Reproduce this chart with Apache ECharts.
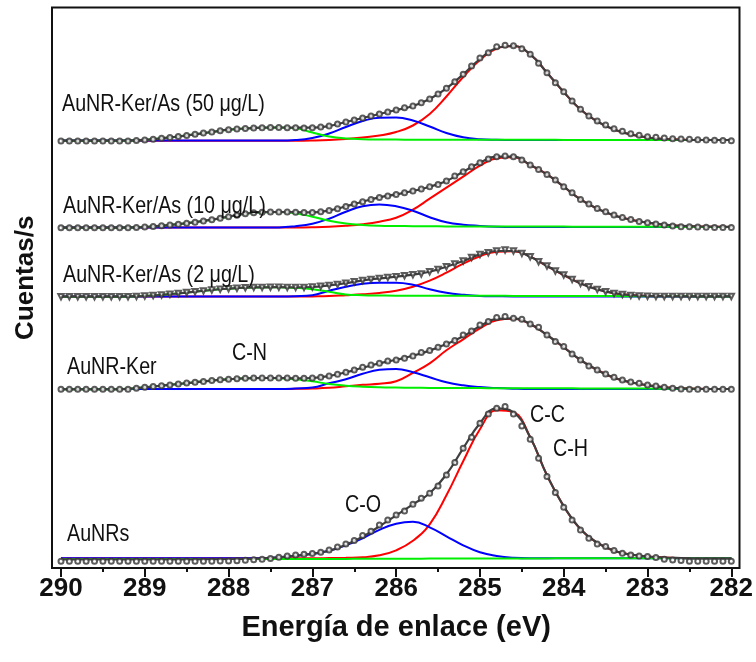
<!DOCTYPE html>
<html>
<head>
<meta charset="utf-8">
<script src="https://cdn.jsdelivr.net/npm/echarts@6/dist/echarts.min.js"></script>
<style>html,body{margin:0;padding:0;background:#fff}#c{width:756px;height:662px}</style>
</head>
<body>
<div id="c"></div>
<script>
// ---- data (intensity above each trace's own baseline, arbitrary units) ----
// measured points every 0.1 eV from 290.0 down to 282.0
const ptsA50 = [0,0,0,0,0,0,0,0,0,0.5, 1,1.7,2.7,3.5,4.5,5.5,6.7,8,9,10.3, 11.3,12,12.5,13,13.3,13.5,13.5,13.3,13.3,13, 13.3,14,15,17,19,21,23,25,27,29, 31,33.3,35,38.3,42,47,52.7,59.3,66.7,75, 83,88.3,94.3,95.7,95.3,92.3,86.7,77.7,68.3,58.3, 49.3,40,31.7,25,20,16,12.3,9.7,7.3,5.7, 4.3,3.7,3,2.3,2,1.7,1.3,1,0.7,0.5, 0.3];
const ptsA10 = [0,0,0,0,0,0,0,0,0,0.3, 0.7,1.3,2,2.7,3.5,4.5,5.5,6.7,8,9.5, 11,12.5,14,15,15.5,15.7,15.7,15.7,15.5,15.3, 15.3,16,17.3,19,21.3,23.7,26,28.3,30.3,31.7, 33.3,35,36.7,38.7,41,43.3,46.7,51.7,56,61, 65,68.7,71,71.7,71,67.7,62.7,58.3,53.3,47.7, 41,35,28.3,23.7,19.3,16,12.7,10.3,8.3,6.3, 5,3.7,2.7,1.7,1,1,0.7,0.5,0.3,0.3, 0.3];
const ptsA2 = [0,0,0,0,0,0,0,0,0,0.3, 0.7,1.2,1.8,2.5,3.3,4.2,5,5.8,6.7,7.5, 8,8.5,9,9.3,9.3,9.5,9.5,9.3,9.3,9.3, 9.7,10.5,11.3,12.3,13.5,15,16.3,17.3,18.3,19.3, 20,21,22,22.7,25,27.3,30,32.7,35.7,39.3, 42.3,44,45.7,46.7,45.7,43.3,40,35,30.7,25.7, 21.7,17.3,13.3,10,7.3,5,3.3,2.3,1.3,0.7, 0.5,0.3,0.2,0.2,0.2,0.2,0.2,0.2,0.2,0.2, 0.2];
const ptsKer = [0,0,0,0,0,0,0,0,0,1, 2,2.8,3.6,4.4,5.3,6.2,7,7.8,8.7,9.5, 10,10.5,11,11.3,11.3,11.3,11.3,11.2,11,11, 11.3,12,13.3,15,17,19.3,22,24.3,26,28.3, 29.3,31,33.3,36.7,38.7,42,45.3,48.7,54.3,58.3, 64.3,67.7,71.7,72.7,71,70,65.3,62,54.3,47.7, 42.7,35.3,29.3,23.3,19.3,15.3,12,9.3,7.3,6, 4.3,3.3,2,1,0.3,0,0,0,0,0, 0];
const ptsNR = [0,0,0,0,0,0,0,0,0,0, 0,0,0,0,0,0,0,0,0,0.2, 0.4,0.6,1,1.5,2,2.7,4,5.3,6.3,7, 7.7,9,11.3,14.3,17.3,20.7,25.7,30,36.3,41.3, 46.3,50.3,57,63,68,75.3,86.3,98.7,113,124, 138,147.3,153,154.7,147.3,135.3,122,103,84.7,68.7, 54,41.3,31.3,23,17.3,14.7,10.7,8,6.3,5.3, 4.7,3.7,2,1.3,0.7,0,0,0,0,0, 0];

// fitted curves every 0.2 eV from 290.0 down to 282.0
const envA50 = [0.3,0.3,0.3,0.3,0.6, 1.2,2.7,4.5,6.7,9, 11.3,12.5,13.3,13.5,13.3, 13.3,15,19,23,27, 31,35,42,52.7,66.7, 82,93,95,86.7,68.3, 49,31.5,19.5,11.5,6.5, 3.5,2,1.3,1,1, 1];
const redA50 = [0.3,0.3,0.3,0.3,0.3, 0.3,0.3,0.3,0.3,0.3, 0.3,0.3,0.3,0.3,0.3, 0.5,1,2,3.5,5.5, 9,15.5,27,44.5,64, 81,92.5,95,86.7,68.3, 49,31.5,19.5,11.5,6.5, 3.5,2,1.3,1,1, 1];
const blueA50 = [0.5,0.5,0.5,0.5,0.5, 0.5,0.5,0.5,0.5,0.5, 0.5,0.5,0.5,0.5,1, 3,7.5,14,20,23.3, 23.5,20.5,14.5,8,3.7, 1.8,1.2,1,1,1, 1,1,1,1,1, 1,1,1,1,1, 1];
const greenA50 = [0.3,0.3,0.3,0.3,0.5, 1,2.7,4.5,6.7,9, 11.3,12.5,13.3,13.5,12.8, 8.5,4.5,2.5,1.8,1.5, 1.4,1.3,1.3,1.3,1.3, 1.2,1.2,1.2,1.2,1.2, 1.1,1.1,1.1,1.1,1, 1,1,1,1,1, 1];

const envA10 = [0,0,0,0,0.2, 0.7,2,3.5,5.5,8, 11,14,15.5,15.7,15.5, 15.3,17.3,21.3,26,30.3, 33.3,36.7,41,46.7,56, 65,71,71,62.7,53.3, 41,28.3,19,12.3,8, 5,3,1.8,1.2,1, 0.8];
const redA10 = [0.3,0.3,0.3,0.3,0.3, 0.3,0.3,0.3,0.3,0.3, 0.3,0.3,0.3,0.3,0.3, 0.5,1,2,3.5,6, 10,18,29,40,51, 62,69.5,70.5,62.7,53.3, 41,28.3,19,12.3,8, 5,3,1.8,1.2,1, 0.8];
const blueA10 = [0.3,0.3,0.3,0.3,0.3, 0.3,0.3,0.3,0.3,0.3, 0.3,0.3,0.3,0.3,1.5, 4,9,16,21.5,23.3, 21.5,17,10.5,5.5,3, 1.8,1,0.7,0.7,0.7, 0.7,0.7,0.7,0.7,0.7, 0.7,0.7,0.7,0.7,0.7, 0.7];
const greenA10 = [0,0,0,0,0.2, 0.7,2,3.5,5.5,8, 11,14,15.5,15.7,14.5, 11,7,4.3,2.8,2, 1.7,1.5,1.4,1.3,1.3, 1.2,1.2,1.2,1.1,1.1, 1.1,1,1,1,0.9, 0.9,0.9,0.8,0.8,0.8, 0.7];

const envA2 = [0,0,0,0,0.2, 0.7,1.8,3.3,5,6.7, 8,9,9.3,9.5,9.3, 9.7,11.3,13.5,16.3,18.3, 20,22,25,30,35.7, 42.3,45.7,45.7,40,30.7, 21.7,13.3,7.3,3.5,1.6, 0.8,0.5,0.4,0.3,0.3, 0.3];
const redA2 = [0.2,0.2,0.2,0.2,0.2, 0.2,0.2,0.2,0.2,0.2, 0.2,0.2,0.2,0.2,0.2, 0.3,0.6,1.5,2.5,3.8, 6,10,16,24,33, 40.5,45,45.5,40,30.7, 21.7,13.3,7.3,3.5,1.6, 0.8,0.5,0.4,0.3,0.3, 0.3];
const blueA2 = [0.2,0.2,0.2,0.2,0.2, 0.2,0.2,0.2,0.2,0.2, 0.2,0.2,0.2,0.2,0.5, 1.5,6,10,13,14, 14,12,7.5,4,2, 0.8,0.5,0.3,0.3,0.3, 0.3,0.3,0.3,0.3,0.3, 0.3,0.3,0.3,0.3,0.3, 0.3];
const greenA2 = [0,0,0,0,0.2, 0.7,1.8,3.3,5,6.7, 8,9,9.3,9.5,8.8, 7.5,5,2.3,1.5,1.2, 1,1,1,1,0.9, 0.9,0.9,0.8,0.8,0.8, 0.7,0.7,0.6,0.6,0.5, 0.5,0.4,0.4,0.3,0.3, 0.3];

const envKer = [0,0,0,0,0.5, 2,3.6,5.3,7,8.7, 10,11,11.3,11.3,11, 11.3,13.3,17,21.5,26, 29.5,33.5,38.7,45.3,53, 63,70.5,71,65.3,54.3, 42,29.3,19.3,11.5,7, 4,2,1,0.5,0.3, 0.3];
const redKer = [0.3,0.3,0.3,0.3,0.3, 0.3,0.3,0.3,0.3,0.3, 0.3,0.3,0.3,0.3,0.5, 0.8,1.5,3,4.5,5.5, 8,16.5,26,39,50, 61,69,70.5,65.3,54.3, 42,29.3,19.3,11.5,7, 4,2,1,0.5,0.3, 0.3];
const blueKer = [0.3,0.3,0.3,0.3,0.3, 0.3,0.3,0.3,0.3,0.3, 0.3,0.3,0.3,0.3,0.8, 1.8,6,10,15.5,19.5, 20.3,17,12,7,4, 2.2,1.2,0.6,0.3,0.3, 0.3,0.3,0.3,0.3,0.3, 0.3,0.3,0.3,0.3,0.3, 0.3];
const greenKer = [0,0,0,0,0.5, 2,3.6,5.3,7,8.7, 10,11,11.3,11,10, 8,5.3,3.6,2.6,2, 1.7,1.5,1.4,1.3,1.2, 1.2,1.1,1.1,1,1, 1,0.9,0.9,0.8,0.8, 0.7,0.6,0.5,0.4,0.3, 0.3];

const envNR = [2,2,2,2,2, 2,2,2,2,2.2, 2.3,2.5,3,4,5.5, 7.5,10.5,16.5,24.5,35, 46,57,68,87,113, 138,153,149,124,86, 55,32,18.5,10.5,6.8, 4.8,3.8,3.3,3,3, 3];
const redNR = [3,3,3,3,3, 3,3,3,3,3, 3,3,3,3,3, 3,3.2,3.5,4,6, 11,20.5,37,66,100, 132,151,149,124,86, 55,32,18.5,10.5,6.8, 4.8,3.8,3.3,3,3, 3];
const blueNR = [3,3,3,3,3, 3,3,3,3,3, 3,3,3,4,5.5, 7.5,10.5,16,23,31.5, 37.5,39.5,34,25,16, 9,5.3,3.5,3,3, 3,3,3,3,3, 3,3,3,3,3, 3];
const greenNR = [2.3,2.3,2.3,2.3,2.3, 2.3,2.3,2.3,2.3,2.3, 2.3,2.3,2.3,2.3,2.3, 2.3,2.4,2.4,2.5,2.5, 2.6,2.6,2.7,2.7,2.8, 2.8,2.8,2.9,2.9,2.9, 3,3,3,3,3, 3,3,3,3,3, 3];

// vertical offsets of each trace (stacked display)
const offsets = [427, 340.3, 271.3, 178.7, 6.7];
const traceNames = ['AuNR-Ker/As (50 μg/L)', 'AuNR-Ker/As (10 μg/L)', 'AuNR-Ker/As (2 μg/L)', 'AuNR-Ker', 'AuNRs'];
const xTicks = [290, 289, 288, 287, 286, 285, 284, 283, 282];

// energy grids (sampling positions)
const E01 = []; for (let i = 0; i <= 80; i++) E01.push(+(290 - i * 0.1).toFixed(1));
const E02 = []; for (let i = 0; i <= 40; i++) E02.push(+(290 - i * 0.2).toFixed(1));

const traces = [
  {pts: ptsA50, env: envA50, red: redA50, blue: blueA50, green: greenA50, sym: 'emptyCircle', rot: 0},
  {pts: ptsA10, env: envA10, red: redA10, blue: blueA10, green: greenA10, sym: 'emptyCircle', rot: 0},
  {pts: ptsA2, env: envA2, red: redA2, blue: blueA2, green: greenA2, sym: 'emptyTriangle', rot: 180},
  {pts: ptsKer, env: envKer, red: redKer, blue: blueKer, green: greenKer, sym: 'emptyCircle', rot: 0},
  {pts: ptsNR, env: envNR, red: redNR, blue: blueNR, green: greenNR, sym: 'emptyCircle', rot: 0}
];

const FONT = '"Liberation Sans",Arial,sans-serif';

const series = [];
traces.forEach((t, k) => {
  const off = offsets[k];
  const mk = (arr, color, width, z, nm) => ({
    type: 'line', name: traceNames[k] + ' ' + nm, data: E02.map((e, i) => [e, arr[i] + off]),
    smooth: 0.45, showSymbol: false, symbol: 'none', silent: true,
    lineStyle: {color: color, width: width}, z: z
  });
  series.push(mk(t.red, '#ff0000', 2, 2, 'C-C/C-H'));
  series.push(mk(t.blue, '#0000ff', 2, 3, 'C-O'));
  series.push(mk(t.green, '#00ee00', 2, 4, 'C-N'));
  series.push(mk(t.env, '#404040', 2.2, 5, 'ajuste'));
  series.push({
    type: 'scatter', name: traceNames[k], data: E01.map((e, i) => [e, t.pts[i] + off]),
    symbol: t.sym, symbolRotate: t.rot, symbolSize: t.sym === 'emptyTriangle' ? 5.5 : 5,
    itemStyle: {color: '#333', borderWidth: 1}, silent: true, z: 6
  });
});

const chart = echarts.init(document.getElementById('c'), null, {renderer: 'canvas'});
// annotation texts: Arial-like font squeezed horizontally to mimic the narrow face of the original
const lbl = (txt, x, y) => ({
  type: 'text', x: x, y: y, z: 20, scaleX: 0.82, scaleY: 1,
  style: {text: txt, font: '24px ' + FONT, fill: '#111', textAlign: 'left', textVerticalAlign: 'middle'}
});
chart.setOption({
  animation: false,
  backgroundColor: '#fff',
  grid: {left: 61, right: 23.3, top: 7.5, bottom: 94},
  xAxis: {
    type: 'value', min: 282, max: 290, interval: 1, inverse: true,
    name: 'Energía de enlace (eV)', nameLocation: 'middle', nameGap: 45,
    nameTextStyle: {fontFamily: FONT, fontWeight: 'bold', fontSize: 29, color: '#111'},
    axisLine: {show: false},
    axisTick: {show: true, length: 9, lineStyle: {color: '#111', width: 2}},
    minorTick: {show: true, splitNumber: 2, length: 4, lineStyle: {color: '#111', width: 2}},
    axisLabel: {fontFamily: FONT, fontWeight: 'bold', fontSize: 26, color: '#111', margin: 8,
      formatter: v => (xTicks.indexOf(v) >= 0 ? String(v) : '')},
    splitLine: {show: false}, minorSplitLine: {show: false}
  },
  yAxis: {
    type: 'value', min: 0, max: 560.5,
    name: 'Cuentas/s', nameLocation: 'middle', nameGap: 22, nameRotate: 90,
    nameTextStyle: {fontFamily: FONT, fontWeight: 'bold', fontSize: 26, color: '#111', padding: [0, 0, 0, 20]},
    axisLine: {show: false}, axisTick: {show: false}, axisLabel: {show: false}, splitLine: {show: false}
  },
  graphic: [
    {type: 'rect', z: 10, silent: true, shape: {x: 52, y: 7.5, width: 687.5, height: 560.5},
      style: {fill: 'none', stroke: '#111', lineWidth: 2}},
    lbl(traceNames[0], 62, 104),
    lbl(traceNames[1], 63, 206.5),
    lbl(traceNames[2], 63, 275),
    lbl(traceNames[3], 67, 367),
    lbl(traceNames[4], 67, 534.5),
    lbl('C-N', 232, 353),
    lbl('C-O', 345, 505),
    lbl('C-C', 530, 415.5),
    lbl('C-H', 553, 449)
  ],
  series: series
});
</script>
</body>
</html>
